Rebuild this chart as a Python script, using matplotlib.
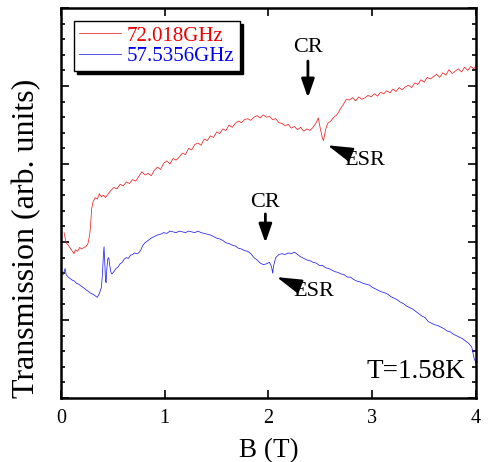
import matplotlib
matplotlib.use("Agg")
import matplotlib.pyplot as plt
from matplotlib.ticker import MultipleLocator

plt.rcParams['font.family'] = ['Liberation Serif', 'DejaVu Serif']

# ---- data ----
red_label = "72.018GHz"
blue_label = "57.5356GHz"

red_B = [0.03, 0.04, 0.05, 0.07, 0.09, 0.11, 0.125, 0.14, 0.16, 0.18, 0.20, 0.22, 0.24, 0.26,
         0.275, 0.285, 0.295, 0.31, 0.33, 0.35, 0.37, 0.39, 0.41, 0.43, 0.45, 0.48, 0.51, 0.54,
         0.57, 0.60, 0.63, 0.66, 0.69, 0.72, 0.75, 0.78, 0.81, 0.84, 0.87, 0.90, 0.93, 0.96,
         0.99, 1.02, 1.05, 1.08, 1.11, 1.14, 1.17, 1.20, 1.23, 1.26, 1.29, 1.32, 1.35, 1.38,
         1.41, 1.44, 1.47, 1.50, 1.53, 1.56, 1.59, 1.62, 1.65, 1.68, 1.71, 1.74, 1.77, 1.80,
         1.83, 1.86, 1.89, 1.92, 1.95, 1.98, 2.01, 2.04, 2.07, 2.10, 2.13, 2.16, 2.19, 2.22,
         2.25, 2.28, 2.31, 2.34, 2.37, 2.40, 2.43, 2.46, 2.48, 2.50, 2.52, 2.53, 2.55, 2.57,
         2.60, 2.63, 2.66, 2.69, 2.72, 2.75, 2.78, 2.81, 2.84, 2.87, 2.90, 2.93, 2.96, 2.99,
         3.02, 3.05, 3.08, 3.11, 3.14, 3.17, 3.20, 3.23, 3.26, 3.29, 3.32, 3.35, 3.38, 3.41,
         3.44, 3.47, 3.50, 3.53, 3.56, 3.59, 3.62, 3.65, 3.68, 3.71, 3.74, 3.77, 3.80, 3.83,
         3.86, 3.89, 3.92, 3.95, 3.98, 4.00]
red_T = [2.12, 2.05, 1.99, 1.96, 1.92, 1.88, 1.85, 1.90, 1.88, 1.93, 1.91, 1.93, 1.94, 1.98,
         2.08, 2.20, 2.42, 2.52, 2.57, 2.55, 2.62, 2.58, 2.60, 2.57, 2.61, 2.66, 2.70, 2.68,
         2.74, 2.72, 2.77, 2.75, 2.80, 2.78, 2.84, 2.90, 2.86, 2.88, 2.85, 2.92, 2.96, 2.93,
         3.01, 3.04, 3.00, 3.07, 3.05, 3.09, 3.14, 3.12, 3.20, 3.18, 3.25, 3.27, 3.24, 3.32,
         3.30, 3.36, 3.34, 3.41, 3.39, 3.45, 3.43, 3.50, 3.47, 3.52, 3.55, 3.53, 3.57, 3.58,
         3.56, 3.60, 3.62, 3.59, 3.63, 3.60, 3.61, 3.57, 3.58, 3.53, 3.52, 3.49, 3.51, 3.46,
         3.48, 3.44, 3.47, 3.42, 3.45, 3.43, 3.47, 3.53, 3.59, 3.45, 3.33, 3.30, 3.44, 3.52,
         3.55, 3.60, 3.63, 3.70, 3.76, 3.83, 3.82, 3.85, 3.81, 3.86, 3.83, 3.85, 3.88, 3.86,
         3.90, 3.87, 3.92, 3.90, 3.94, 3.91, 3.96, 3.93, 3.98, 3.95, 3.99, 4.01, 3.98, 4.04,
         4.02, 4.08, 4.05, 4.11, 4.09, 4.12, 4.15, 4.11, 4.17, 4.14, 4.21, 4.16, 4.19, 4.22,
         4.18, 4.24, 4.20, 4.25, 4.22, 4.26]

blue_B = [0.02, 0.03, 0.04, 0.05, 0.07, 0.09, 0.11, 0.13, 0.15, 0.17, 0.19, 0.21, 0.23, 0.25,
          0.27, 0.29, 0.31, 0.33, 0.35, 0.37, 0.39, 0.40, 0.41, 0.415, 0.42, 0.43, 0.435, 0.44,
          0.45, 0.46, 0.47, 0.48, 0.49, 0.51, 0.53, 0.55, 0.57, 0.59, 0.61, 0.63, 0.65, 0.67,
          0.69, 0.71, 0.73, 0.75, 0.77, 0.79, 0.81, 0.84, 0.87, 0.90, 0.93, 0.96, 0.99, 1.02,
          1.05, 1.08, 1.11, 1.14, 1.17, 1.20, 1.23, 1.26, 1.29, 1.32, 1.35, 1.38, 1.41, 1.44,
          1.47, 1.50, 1.53, 1.56, 1.59, 1.62, 1.65, 1.68, 1.71, 1.74, 1.77, 1.80, 1.83, 1.86,
          1.89, 1.92, 1.95, 1.98, 2.01, 2.03, 2.04, 2.05, 2.07, 2.10, 2.13, 2.16, 2.19, 2.22,
          2.25, 2.28, 2.31, 2.34, 2.37, 2.40, 2.43, 2.46, 2.49, 2.52, 2.55, 2.58, 2.61, 2.64,
          2.67, 2.70, 2.73, 2.76, 2.79, 2.82, 2.85, 2.88, 2.91, 2.94, 2.97, 3.00, 3.03, 3.06,
          3.09, 3.12, 3.15, 3.18, 3.21, 3.24, 3.27, 3.30, 3.33, 3.36, 3.39, 3.42, 3.45, 3.48,
          3.51, 3.54, 3.57, 3.60, 3.63, 3.66, 3.69, 3.72, 3.75, 3.78, 3.81, 3.84, 3.87, 3.90,
          3.93, 3.96, 3.98, 4.00]
blue_T = [1.58, 1.62, 1.66, 1.58, 1.55, 1.53, 1.51, 1.50, 1.47, 1.46, 1.44, 1.42, 1.40, 1.38,
          1.36, 1.34, 1.33, 1.31, 1.29, 1.34, 1.42, 1.60, 1.85, 1.94, 1.80, 1.50, 1.48, 1.62,
          1.78, 1.80, 1.70, 1.62, 1.59, 1.62, 1.66, 1.68, 1.72, 1.74, 1.78, 1.80, 1.79, 1.83,
          1.84, 1.86, 1.85, 1.86, 1.90, 1.96, 1.99, 2.02, 2.05, 2.07, 2.09, 2.10, 2.12, 2.11,
          2.14, 2.13, 2.12, 2.14, 2.13, 2.12, 2.14, 2.13, 2.12, 2.14, 2.12, 2.11, 2.10, 2.09,
          2.07, 2.05, 2.04, 2.02, 1.99, 1.98, 1.96, 1.95, 1.92, 1.91, 1.89, 1.88, 1.85, 1.80,
          1.77, 1.73, 1.71, 1.72, 1.74, 1.68, 1.60, 1.70, 1.80, 1.84, 1.85, 1.84, 1.86, 1.85,
          1.87, 1.84, 1.81, 1.79, 1.77, 1.76, 1.74, 1.73, 1.70, 1.70, 1.67, 1.66, 1.64, 1.62,
          1.61, 1.59, 1.58, 1.55, 1.55, 1.52, 1.50, 1.49, 1.47, 1.46, 1.45, 1.42, 1.40, 1.38,
          1.36, 1.35, 1.33, 1.30, 1.28, 1.26, 1.23, 1.21, 1.18, 1.16, 1.14, 1.11, 1.08, 1.05,
          1.03, 0.98, 0.96, 0.94, 0.93, 0.91, 0.89, 0.86, 0.85, 0.82, 0.80, 0.78, 0.76, 0.73,
          0.70, 0.65, 0.52, 0.44]

x_ticks = [0, 1, 2, 3, 4]
x_ticklabels = ["0", "1", "2", "3", "4"]

# annotation anchor points (data units)
cr_red_B, cr_red_T = 2.38, 3.85
esr_red_B, esr_red_T = 2.57, 3.24
cr_blue_B, cr_blue_T = 1.97, 1.99
esr_blue_B, esr_blue_T = 2.08, 1.55

# ---- figure ----
fig = plt.figure(figsize=(4.89, 4.62), dpi=100)
ax = fig.add_axes([0.1247, 0.1385, 0.8487, 0.8442])

ax.plot(red_B, red_T, color='#ee2222', lw=0.55, label=red_label)
ax.plot(blue_B, blue_T, color='#2222ee', lw=0.55, label=blue_label)

ax.set_xlim(0, 4)
ax.set_ylim(0, 5)
ax.set_xticks(x_ticks)
ax.set_xticklabels(x_ticklabels, fontsize=14.5)
ax.yaxis.set_major_locator(MultipleLocator(1))
ax.yaxis.set_minor_locator(MultipleLocator(0.2))
ax.set_yticklabels([])
ax.tick_params(axis='both', which='both', direction='in', top=True, right=True, width=1.2)
ax.tick_params(axis='both', which='major', length=6)
ax.tick_params(axis='y', which='minor', length=3)
ax.tick_params(axis='x', which='major', pad=8)
for s in ax.spines.values():
    s.set_linewidth(1.8)

ax.set_xlabel("B (T)", fontsize=19.5, labelpad=7)
ax.set_ylabel("Transmission (arb. units)", fontsize=23)
ax.yaxis.set_label_coords(-0.047, 0.41)

# annotations
ax.text(cr_red_B, cr_red_T + 0.64, "CR", ha='center', va='center', fontsize=16)
ax.annotate("", xy=(cr_red_B, cr_red_T), xytext=(cr_red_B, cr_red_T + 0.47),
            arrowprops=dict(arrowstyle='-|>,head_length=0.8,head_width=0.28', lw=2,
                            color='black', shrinkA=0, shrinkB=0, mutation_scale=14))
ax.text(cr_blue_B, cr_blue_T + 0.52, "CR", ha='center', va='center', fontsize=16)
ax.annotate("", xy=(cr_blue_B, cr_blue_T), xytext=(cr_blue_B, cr_blue_T + 0.37),
            arrowprops=dict(arrowstyle='-|>,head_length=0.8,head_width=0.28', lw=2,
                            color='black', shrinkA=0, shrinkB=0, mutation_scale=14))

for (bx, by) in [(esr_red_B, esr_red_T), (esr_blue_B, esr_blue_T)]:
    ax.annotate("ESR", xy=(bx, by), xytext=(bx + 0.16, by - 0.19),
                ha='left', va='center', fontsize=16,
                arrowprops=dict(arrowstyle='-|>,head_length=1.1,head_width=0.32', lw=1.5,
                                color='black', shrinkA=1, shrinkB=0, mutation_scale=14))

ax.text(0.975, 0.067, "T=1.58K", transform=ax.transAxes, ha='right', va='center', fontsize=19.5)

leg = ax.legend(loc='upper left', bbox_to_anchor=(0.031, 0.967), borderaxespad=0,
                fontsize=15, frameon=True, fancybox=False, handlelength=2.0,
                handletextpad=0.3, borderpad=0.25, labelspacing=0.05,
                shadow={'color': 'black', 'alpha': 1.0})
leg.get_frame().set_edgecolor('black')
leg.get_frame().set_linewidth(1.0)
for t, c in zip(leg.get_texts(), ['#ee0000', '#0000ee']):
    t.set_color(c)

fig.savefig("out.png", dpi=100)
